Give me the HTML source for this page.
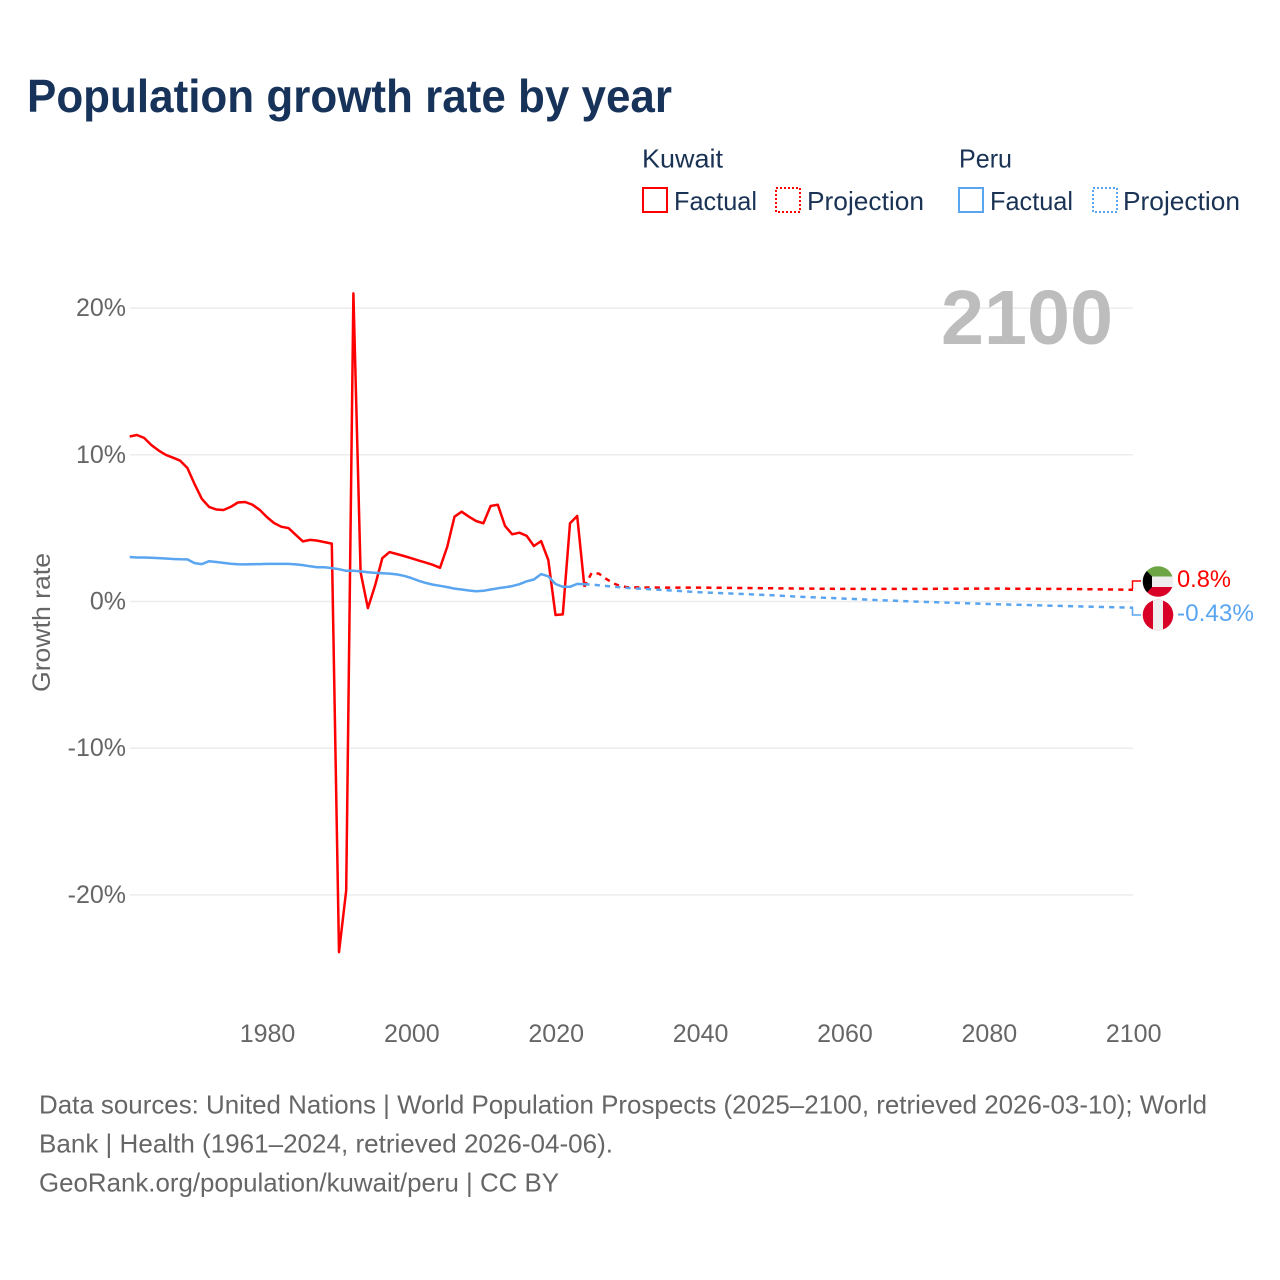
<!DOCTYPE html>
<html lang="en">
<head>
<meta charset="utf-8">
<title>Population growth rate by year</title>
<style>
html,body{margin:0;padding:0;background:#fff;}
svg{display:block;font-family:"Liberation Sans",sans-serif;}
</style>
</head>
<body>
<svg id="chart" xmlns="http://www.w3.org/2000/svg" width="1280" height="1280" viewBox="0 0 1280 1280">
  <rect x="0" y="0" width="1280" height="1280" fill="#ffffff"/>
  <text x="27" y="112" font-size="46" font-weight="700" fill="#17335a" textLength="645" lengthAdjust="spacingAndGlyphs">Population growth rate by year</text>

  <g font-size="26" fill="#1a3354">
    <text x="642" y="167.5" textLength="81" lengthAdjust="spacingAndGlyphs">Kuwait</text>
    <rect x="643" y="188" width="24" height="24" fill="none" stroke="#ff0000" stroke-width="2"/>
    <text x="674" y="210" textLength="83" lengthAdjust="spacingAndGlyphs">Factual</text>
    <rect x="776" y="188" width="24" height="24" fill="none" stroke="#ff0000" stroke-width="2" stroke-dasharray="2 2"/>
    <text x="807" y="210" textLength="117" lengthAdjust="spacingAndGlyphs">Projection</text>
    <text x="959" y="167.5" textLength="53" lengthAdjust="spacingAndGlyphs">Peru</text>
    <rect x="959" y="188" width="24" height="24" fill="none" stroke="#5aa5f0" stroke-width="2"/>
    <text x="990" y="210" textLength="83" lengthAdjust="spacingAndGlyphs">Factual</text>
    <rect x="1093" y="188" width="24" height="24" fill="none" stroke="#5aa5f0" stroke-width="2" stroke-dasharray="2 2"/>
    <text x="1123" y="210" textLength="117" lengthAdjust="spacingAndGlyphs">Projection</text>
  </g>

  <g id="grid"></g>
  <g id="yticks" font-size="25" fill="#666666" text-anchor="end"></g>
  <g id="xticks" font-size="25" fill="#666666" text-anchor="middle"></g>
  <text transform="translate(50,622.5) rotate(-90)" font-size="25" fill="#666666" text-anchor="middle" textLength="139" lengthAdjust="spacingAndGlyphs">Growth rate</text>
  <text x="941" y="344" font-size="77" font-weight="700" fill="#bdbdbd" textLength="172" lengthAdjust="spacingAndGlyphs">2100</text>

  <g id="series"></g>

  <g>
    <polyline points="1132.5,589 1132.5,581 1141,581" fill="none" stroke="#ff0000" stroke-width="1.5"/>
    <polyline points="1132.5,607 1132.5,615 1141,615" fill="none" stroke="#5aa5f0" stroke-width="1.5"/>
    <defs>
      <clipPath id="clip-kw"><circle cx="1158" cy="581.5" r="15.3"/></clipPath>
      <clipPath id="clip-pe"><circle cx="1158" cy="615" r="15.3"/></clipPath>
    </defs>
    <g clip-path="url(#clip-kw)">
      <rect x="1142" y="566" width="32" height="11" fill="#6da544"/>
      <rect x="1142" y="576.5" width="32" height="10.5" fill="#eeeeee"/>
      <rect x="1142" y="587" width="32" height="11" fill="#d80027"/>
      <polygon points="1142,566 1142,598 1152,587 1152,576.5" fill="#000000"/>
    </g>
    <g clip-path="url(#clip-pe)">
      <rect x="1142" y="599" width="32" height="32" fill="#d80027"/>
      <rect x="1153" y="599" width="10" height="32" fill="#eeeeee"/>
    </g>
    <text id="kw-end" x="1177" y="587" font-size="24" fill="#ff0000" textLength="54" lengthAdjust="spacingAndGlyphs"></text>
    <text id="pe-end" x="1177" y="621" font-size="24" fill="#5aa5f0" textLength="77" lengthAdjust="spacingAndGlyphs"></text>
  </g>

  <g font-size="26" fill="#666666">
    <text x="39" y="1113.5" textLength="1168" lengthAdjust="spacingAndGlyphs">Data sources: United Nations | World Population Prospects (2025–2100, retrieved 2026-03-10); World</text>
    <text x="39" y="1152.5" textLength="574" lengthAdjust="spacingAndGlyphs">Bank | Health (1961–2024, retrieved 2026-04-06).</text>
    <text x="39" y="1191.5" textLength="520" lengthAdjust="spacingAndGlyphs">GeoRank.org/population/kuwait/peru | CC BY</text>
  </g>
</svg>
<script>
var factualStartYear = 1961;
var kuwaitFactual = [11.25,11.35,11.15,10.67,10.3,10.0,9.8,9.6,9.1,8.0,7.0,6.45,6.27,6.24,6.45,6.75,6.78,6.6,6.25,5.76,5.35,5.1,5.0,4.55,4.1,4.2,4.15,4.05,3.95,-23.9,-19.7,21.0,2.0,-0.45,1.1,2.95,3.37,3.24,3.1,2.95,2.8,2.65,2.5,2.3,3.74,5.78,6.12,5.78,5.49,5.33,6.51,6.6,5.15,4.58,4.69,4.47,3.78,4.12,2.83,-0.92,-0.88,5.33,5.83,1.0];
var peruFactual = [3.03,3.0,3.0,2.98,2.96,2.93,2.9,2.88,2.87,2.62,2.55,2.75,2.69,2.63,2.57,2.54,2.53,2.54,2.55,2.56,2.56,2.56,2.56,2.53,2.48,2.4,2.33,2.33,2.28,2.2,2.09,2.09,2.05,2.0,1.95,1.93,1.9,1.85,1.75,1.6,1.42,1.27,1.15,1.07,0.98,0.88,0.82,0.75,0.7,0.73,0.82,0.9,0.97,1.05,1.18,1.38,1.5,1.87,1.72,1.19,1.0,1.0,1.2,1.18];
var kuwaitProjectionYears = [2024,2025,2026,2027,2028,2029,2030,2035,2040,2050,2060,2070,2080,2090,2100];
var kuwaitProjection = [1.0,1.95,1.9,1.55,1.24,1.05,0.97,0.95,0.95,0.9,0.86,0.86,0.88,0.86,0.8];
var peruProjectionYears = [2024,2025,2030,2037,2040,2045,2050,2055,2060,2065,2070,2075,2080,2085,2090,2095,2100];
var peruProjection = [1.18,1.15,0.92,0.72,0.63,0.53,0.42,0.3,0.2,0.09,-0.01,-0.09,-0.17,-0.24,-0.3,-0.36,-0.42];
var xTickYears = [1980,2000,2020,2040,2060,2080,2100];
var yTickValues = [20,10,0,-10,-20];
var yTickLabels = ['20%','10%','0%','-10%','-20%'];
var kuwaitEndLabel = '0.8%';
var peruEndLabel = '-0.43%';

var NS = 'http://www.w3.org/2000/svg';
function xScale(year){ return 266.8 + (year - 1980) * (1133 - 266.8) / 120; }
function yScale(v){ return 601.5 - v * 14.67; }
function toPoints(years, values){
  return values.map(function(v, i){ return xScale(years[i]).toFixed(1) + ',' + yScale(v).toFixed(1); }).join(' ');
}
function factualYears(values){
  return values.map(function(_, i){ return factualStartYear + i; });
}
var grid = document.getElementById('grid');
var yticks = document.getElementById('yticks');
var xticks = document.getElementById('xticks');
var series = document.getElementById('series');

yTickValues.forEach(function(v, i){
  var line = document.createElementNS(NS, 'line');
  
  
  line.setAttribute('x1', 130);
  line.setAttribute('x2', 1133);
  line.setAttribute('y1', yScale(v));
  line.setAttribute('y2', yScale(v));
  line.setAttribute('stroke', '#ececec');
  line.setAttribute('stroke-width', '1.5');
  grid.appendChild(line);
  var t = document.createElementNS(NS, 'text');
  
  
  t.setAttribute('x', 126);
  t.setAttribute('y', yScale(v) + 8);
  t.textContent = yTickLabels[i];
  yticks.appendChild(t);
});
xTickYears.forEach(function(y){
  var t = document.createElementNS(NS, 'text');
  
  
  t.setAttribute('x', xScale(y) + 0.7);
  t.setAttribute('y', 1042);
  t.textContent = y;
  xticks.appendChild(t);
});
function addLine(years, values, color, dashed, name){
  var p = document.createElementNS(NS, 'polyline');
  
  
  p.setAttribute('points', toPoints(years, values));
  p.setAttribute('fill', 'none');
  p.setAttribute('stroke', color);
  p.setAttribute('stroke-width', '2.5');
  p.setAttribute('stroke-linejoin', 'round');
  if (dashed) p.setAttribute('stroke-dasharray', '5.2 5.1');
  series.appendChild(p);
}
addLine(factualYears(kuwaitFactual), kuwaitFactual, '#ff0000', false, 'kuwait-factual-line');
addLine(kuwaitProjectionYears, kuwaitProjection, '#ff0000', true, 'kuwait-projection-line');
addLine(factualYears(peruFactual), peruFactual, '#5aa5f0', false, 'peru-factual-line');
addLine(peruProjectionYears, peruProjection, '#5aa5f0', true, 'peru-projection-line');
document.getElementById('kw-end').textContent = kuwaitEndLabel;
document.getElementById('pe-end').textContent = peruEndLabel;
</script>
</body>
</html>
